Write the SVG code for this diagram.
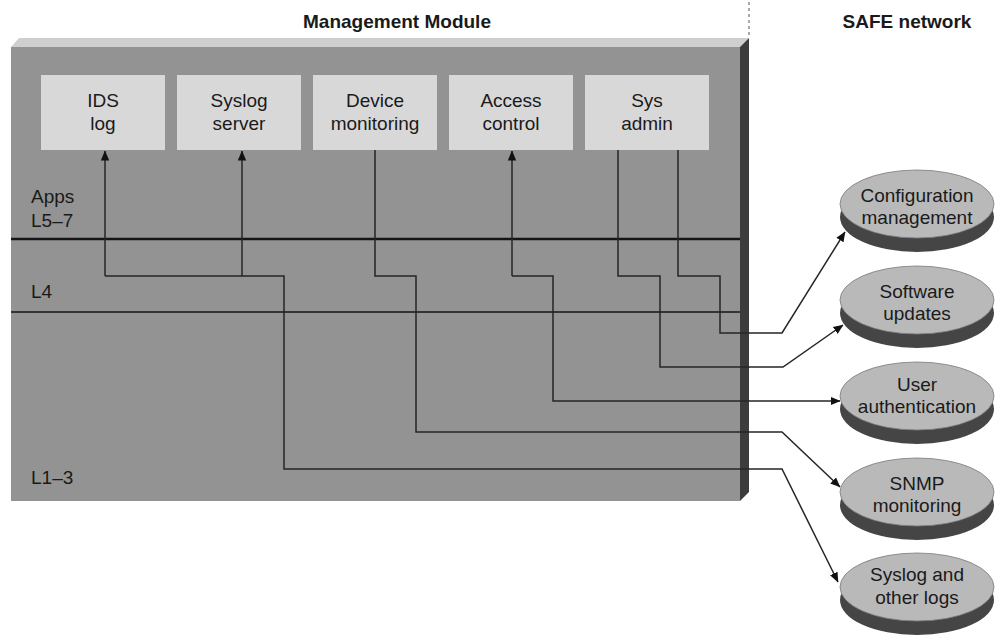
<svg xmlns="http://www.w3.org/2000/svg" width="997" height="635" viewBox="0 0 997 635">
<defs>
<style>
text{font-family:"Liberation Sans",Arial,sans-serif;font-size:19px;fill:#1a1a1a}
.t{font-weight:bold;text-anchor:middle}
.c{text-anchor:middle}
.box{fill:#d8d8d8}
.disc-top{fill:#b9b9b9;stroke:#7a7a7a;stroke-width:0.8}
.disc-base{fill:#454545}
.conn{fill:none;stroke:#262626;stroke-width:1.5}
.layer{stroke:#151515}
</style>
<marker id="ah" viewBox="0 0 10 10" refX="9.5" refY="5" markerWidth="10" markerHeight="10" markerUnits="userSpaceOnUse" orient="auto">
<path d="M0,0.8 L10,5 L0,9.2 Z" fill="#111"/>
</marker>
</defs>
<rect width="997" height="635" fill="#fff"/>

<g id="titles">
<text class="t" x="397" y="28">Management Module</text>
<text class="t" x="907" y="28">SAFE network</text>
<line x1="749" y1="2" x2="749" y2="38" stroke="#555" stroke-width="1" stroke-dasharray="3,3"/>
</g>

<g id="module">
<polygon points="11,47 19,38 749,38 740,47" fill="#cfcfcf"/>
<polygon points="740,47 749,38 749,492 740,501" fill="#3c3c3c"/>
<rect x="11" y="47" width="729" height="454" fill="#939393"/>
<line class="layer" x1="11" y1="239" x2="740" y2="239" stroke-width="2.5"/>
<line class="layer" x1="11" y1="312" x2="740" y2="312" stroke-width="1.5"/>
<text x="31" y="203">Apps</text>
<text x="31" y="227">L5–7</text>
<text x="31" y="298">L4</text>
<text x="31" y="484">L1–3</text>
</g>

<g id="ids-log"><rect class="box" x="41" y="75" width="124" height="75"/><text class="c" x="103" y="107">IDS</text><text class="c" x="103" y="130">log</text></g>
<g id="syslog-server"><rect class="box" x="177" y="75" width="124" height="75"/><text class="c" x="239" y="107">Syslog</text><text class="c" x="239" y="130">server</text></g>
<g id="device-monitoring"><rect class="box" x="313" y="75" width="124" height="75"/><text class="c" x="375" y="107">Device</text><text class="c" x="375" y="130">monitoring</text></g>
<g id="access-control"><rect class="box" x="449" y="75" width="124" height="75"/><text class="c" x="511" y="107">Access</text><text class="c" x="511" y="130">control</text></g>
<g id="sys-admin"><rect class="box" x="585" y="75" width="124" height="75"/><text class="c" x="647" y="107">Sys</text><text class="c" x="647" y="130">admin</text></g>

<g id="config-mgmt"><ellipse class="disc-base" cx="917" cy="217" rx="77" ry="35"/><ellipse class="disc-top" cx="917" cy="204" rx="77" ry="34"/><text class="c" x="917" y="202">Configuration</text><text class="c" x="917" y="224">management</text></g>
<g id="software-updates"><ellipse class="disc-base" cx="917" cy="313" rx="77" ry="35"/><ellipse class="disc-top" cx="917" cy="300" rx="77" ry="34"/><text class="c" x="917" y="298">Software</text><text class="c" x="917" y="320">updates</text></g>
<g id="user-auth"><ellipse class="disc-base" cx="917" cy="409" rx="77" ry="35"/><ellipse class="disc-top" cx="917" cy="396" rx="77" ry="34"/><text class="c" x="917" y="391">User</text><text class="c" x="917" y="413">authentication</text></g>
<g id="snmp-monitoring"><ellipse class="disc-base" cx="917" cy="505" rx="77" ry="35"/><ellipse class="disc-top" cx="917" cy="492" rx="77" ry="34"/><text class="c" x="917" y="490">SNMP</text><text class="c" x="917" y="512">monitoring</text></g>
<g id="syslog-logs"><ellipse class="disc-base" cx="917" cy="600" rx="77" ry="35"/><ellipse class="disc-top" cx="917" cy="587" rx="77" ry="34"/><text class="c" x="917" y="581">Syslog and</text><text class="c" x="917" y="604">other logs</text></g>

<g id="connectors">
<path class="conn" d="M105,276 V151" marker-end="url(#ah)"/>
<path class="conn" d="M242,276 V151" marker-end="url(#ah)"/>
<path class="conn" d="M105,276 H284 V469 H782 L838,582" marker-end="url(#ah)"/>
<path class="conn" d="M375,150 V276 H416 V432 H782 L840,487" marker-end="url(#ah)"/>
<path class="conn" d="M512,276 V151" marker-end="url(#ah)"/>
<path class="conn" d="M512,276 H553 V401 H840" marker-end="url(#ah)"/>
<path class="conn" d="M618,150 V276 H660 V367 H783 L843,325" marker-end="url(#ah)"/>
<path class="conn" d="M678,150 V276 H720 V333 H782 L845,232" marker-end="url(#ah)"/>
</g>
</svg>
